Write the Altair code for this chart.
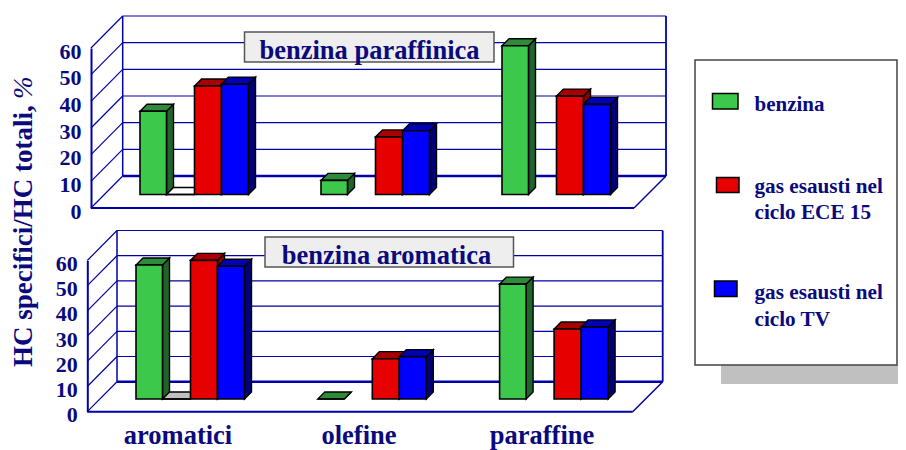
import altair as alt
import pandas as pd

categories = ["aromatici", "olefine", "paraffine"]
series = ["benzina", "altri", "gas esausti ECE 15", "gas esausti TV"]
paraffinica_benzina = [31.2, 5.3, 55.8]
paraffinica_ece = [40.7, 21.6, 36.9]
paraffinica_tv = [41.4, 23.9, 33.8]
aromatica_benzina = [53.2, 0, 45.6]
aromatica_ece = [55.0, 16.0, 27.8]
aromatica_tv = [52.7, 16.8, 28.6]
altri_value = [0]
tick_values = [0, 10, 20, 30, 40, 50, 60]

NAVY = "#0a0a7d"
FRAME = "#0000a8"
FONT = "Liberation Serif"
colors = {
    "benzina": ("#3cc84b", "#1f6428", "#2e8b3a"),
    "gas esausti ECE 15": ("#e60000", "#8a0000", "#a80000"),
    "gas esausti TV": ("#0000ff", "#000078", "#0000b4"),
}
offsets = {"benzina": (0, 26.5), "altri": (26.5, 28), "gas esausti ECE 15": (54.5, 27), "gas esausti TV": (81.5, 27)}


def panel(vals, x0, step, y_front, y_top, base, depth, back_depth, xf, xb, xfr, xbr, altri_fill):
    xs = alt.Scale(domain=[0, 1], range=[x0, x0 + step], nice=False, zero=False)
    ys = alt.Scale(domain=[0, 60], range=[y_front, y_top], nice=False, zero=False)
    dx = 7.0 / step
    cx = lambda px: (px - 8 - x0) / step

    # frame
    rows = []
    def seg(x1, v1, x2, v2, w):
        rows.append({"x": cx(x1), "y": v1, "x2": cx(x2), "y2": v2, "w": w})
    for t in tick_values:
        seg(xf, t, xb, t + back_depth, 1.2)
        seg(xb, t + back_depth, xbr, t + back_depth, 2.4 if t == 0 else 1.2)
    seg(xf, 0, xfr, 0, 2.0)
    seg(xfr, 0, xbr, back_depth, 1.5)
    seg(xb, back_depth, xb, 60 + back_depth, 1.5)
    seg(xbr, back_depth, xbr, 60 + back_depth, 1.8)
    frame = pd.DataFrame(rows)

    y_axis = alt.Axis(values=tick_values, title=None, orient="left", offset=-(xf - 8), ticks=False,
                      grid=False, labelPadding=10, labelOffset=3, labelFont=FONT, labelFontWeight="bold",
                      labelFontSize=22, labelColor=NAVY, domainColor=FRAME, domainWidth=2, labelFlush=False)
    X = lambda f="x": alt.X(f + ":Q", scale=xs, axis=None)
    Y = lambda f="y": alt.Y(f + ":Q", scale=ys, axis=y_axis)
    layers = [
        alt.Chart(frame).mark_rule(color=FRAME).encode(
            x=X(), x2=alt.X2("x2:Q"), y=Y(), y2=alt.Y2("y2:Q"),
            strokeWidth=alt.StrokeWidth("w:Q", scale=None),
        )
    ]

    for s in series:
        off, width = offsets[s]
        if s == "altri":
            items = [(0, altri_value[0])]
            fill_front, fill_side, fill_top = altri_fill, altri_fill, altri_fill
        else:
            items = list(enumerate(vals[s]))
            fill_front, fill_side, fill_top = colors[s]
        front, side, top = [], [], []
        for g, v in items:
            xl = g + off / step
            xr = xl + width / step
            t = base + v
            front.append({"x": xl, "x2": xr, "y": base, "y2": t})
            side.append({"b": g, "x": xr, "y": base, "y2": t})
            side.append({"b": g, "x": xr + dx, "y": base + depth, "y2": t + depth})
            top.append({"b": g, "x": xl, "x2": xr, "y": t})
            top.append({"b": g, "x": xl + dx, "x2": xr + dx, "y": t + depth})
        layers.append(alt.Chart(pd.DataFrame(side)).mark_area(
            orient="vertical", color=fill_side, stroke="black", strokeWidth=1.4).encode(
            x=X(), y=Y(), y2=alt.Y2("y2:Q"), detail="b:N"))
        layers.append(alt.Chart(pd.DataFrame(top)).mark_area(
            orient="horizontal", color=fill_top, stroke="black", strokeWidth=1.4).encode(
            x=X(), x2=alt.X2("x2:Q"), y=Y(), detail="b:N"))
        layers.append(alt.Chart(pd.DataFrame(front)).mark_rect(
            color=fill_front, stroke="black", strokeWidth=1.6).encode(
            x=X(), x2=alt.X2("x2:Q"), y=Y(), y2=alt.Y2("y2:Q")))
    return alt.layer(*layers)


def text(label, x, y, size, align="left", angle=0, style="normal", weight="bold"):
    kw = {"angle": angle} if angle else {}
    return alt.Chart(pd.DataFrame({"t": [label]})).mark_text(
        font=FONT, fontSize=size, fontWeight=weight, fontStyle=style, color=NAVY,
        align=align, baseline="alphabetic", **kw).encode(
        x=alt.value(x - 8), y=alt.value(y - 8), text="t:N")


def rect(x1, y1, x2, y2, fill, stroke=None, sw=1.5):
    kw = {"stroke": stroke, "strokeWidth": sw} if stroke else {}
    return alt.Chart(pd.DataFrame({"a": [0]})).mark_rect(color=fill, **kw).encode(
        x=alt.value(x1 - 8), x2=alt.value(x2 - 8), y=alt.value(y1 - 8), y2=alt.value(y2 - 8))


top_panel = panel({"benzina": paraffinica_benzina, "gas esausti ECE 15": paraffinica_ece, "gas esausti TV": paraffinica_tv},
                  132, 181.0, 200, 40, 5.06, 2.62, 12.0, 91, 122.7, 634, 666, "#ffffff")
bottom_panel = panel({"benzina": aromatica_benzina, "gas esausti ECE 15": aromatica_ece, "gas esausti TV": aromatica_tv},
                     128, 181.8, 403.7, 252.5, 5.04, 2.78, 11.9, 87.3, 117, 632.7, 662.7, "#c0c0c0")

decor = [
    rect(244.5, 32, 494, 62, "#eeeeee", "#555555"),
    text("benzina paraffinica", 369.5, 59, 26.5, "center"),
    rect(265, 237, 513.5, 267, "#eeeeee", "#555555"),
    text("benzina aromatica", 386.5, 264, 26.5, "center"),
    text(categories[0], 178, 444, 26.5, "center"),
    text(categories[1], 359, 444, 26.5, "center"),
    text(categories[2], 542, 444, 26.5, "center"),
    text("HC specifici/HC totali,", 32, 367, 27, "left", 270),
    text("%", 32, 99, 27, "left", 270, "italic", "normal"),
    rect(721, 365, 898, 384, "#c0c0c0"),
    rect(695, 60, 897, 365, "#ffffff", "#444444"),
    rect(712.5, 93.5, 738, 109, colors["benzina"][0], "black"),
    rect(716.5, 177.5, 739, 192.5, colors["gas esausti ECE 15"][0], "black"),
    rect(714.5, 281, 737, 296.5, colors["gas esausti TV"][0], "black"),
    text("benzina", 754.5, 111, 21),
    text("gas esausti nel", 754.5, 192.5, 21.2),
    text("ciclo ECE 15", 754.5, 219, 21.2),
    text("gas esausti nel", 754.5, 299, 21.2),
    text("ciclo TV", 754.5, 325.5, 21.2),
]

chart = alt.layer(top_panel, bottom_panel, *decor).resolve_scale(x="independent", y="independent").resolve_axis(
    x="independent", y="independent").properties(
    width=890, height=442, padding=0, autosize=alt.AutoSizeParams(type="none", contains="content"),
    background="white").configure_view(stroke=None)

chart.save("out.html", embed_options={"renderer": "svg", "actions": False})
